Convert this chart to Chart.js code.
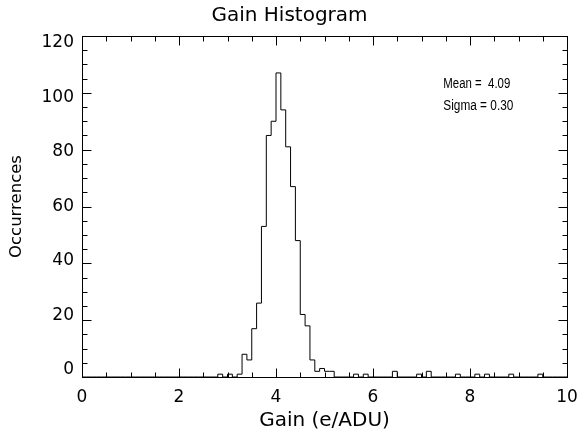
<!DOCTYPE html>
<html>
<head>
<meta charset="utf-8">
<script src="https://cdn.jsdelivr.net/npm/chart.js@4.4.1/dist/chart.umd.min.js"></script>
<style>
  html, body { margin: 0; padding: 0; background: #fff; }
</style>
</head>
<body>
<canvas id="myChart" width="579" height="438"></canvas>
<script>
// histogram of gains, bins 0.0 .. 9.9 (width 0.1)
var binWidth = 0.1;
var counts = [
  0, 0, 0, 0, 0, 0, 0, 0, 0, 0,        // 0.x
  0, 0, 0, 0, 0, 0, 0, 0, 0, 0,        // 1.x
  0, 0, 0, 0, 0, 0, 0, 0, 1, 0,        // 2.x
  1, 0, 1, 8, 6, 17, 26, 53, 85, 90,   // 3.x
  107, 94, 81, 67, 48, 22, 18, 6, 2, 3, // 4.x
  2, 2, 0, 0, 0, 0, 1, 0, 1, 0,        // 5.x
  0, 0, 0, 0, 2, 0, 0, 0, 0, 1,        // 6.x
  0, 2, 0, 0, 0, 0, 0, 1, 0, 0,        // 7.x
  0, 1, 0, 1, 0, 0, 0, 0, 1, 0,        // 8.x
  0, 0, 0, 0, 1, 0, 0, 0, 0, 0         // 9.x
];
var yTicks = [0, 20, 40, 60, 80, 100, 120];
var statLabels = ["Mean =  4.09", "Sigma = 0.30"];

// step points at the left edge of each bin, plus the closing edge
var points = counts.map(function (c, i) { return { x: i * binWidth, y: c }; });
points.push({ x: counts.length * binWidth, y: 0 });

Chart.defaults.font.family = "'DejaVu Sans', sans-serif";
Chart.defaults.color = "#000";

// IDL style box with inward ticks on all four sides + stats text
var idlFrame = {
  id: "idlFrame",
  afterDraw: function (chart) {
    var ctx = chart.ctx, a = chart.chartArea;
    var xs = chart.scales.x, ys = chart.scales.y;
    var L = Math.round(a.left) + 0.5, R = Math.round(a.right) + 0.5;
    var T = Math.round(a.top) + 0.5, B = Math.round(a.bottom) + 0.5;
    ctx.save();
    ctx.strokeStyle = "#000";
    ctx.lineWidth = 1;
    ctx.strokeRect(L, T, R - L, B - T);
    ctx.beginPath();
    for (var k = 0; k <= 20; k++) {
      var px = Math.round(xs.getPixelForValue(k * 0.5)) + 0.5;
      var len = (k % 4 === 0) ? 9 : 5;
      ctx.moveTo(px, B); ctx.lineTo(px, B - len);
      ctx.moveTo(px, T); ctx.lineTo(px, T + len);
    }
    for (var j = 0; j <= 24; j++) {
      var py = Math.round(ys.getPixelForValue(j * 5)) + 0.5;
      var ylen = (j % 4 === 0) ? 9 : 5;
      ctx.moveTo(L, py); ctx.lineTo(L + ylen, py);
      ctx.moveTo(R, py); ctx.lineTo(R - ylen, py);
    }
    ctx.stroke();

    // stats text, squeezed a bit like the IDL vector font
    ctx.fillStyle = "#000";
    ctx.font = "14px 'Liberation Sans', sans-serif";
    ctx.textBaseline = "middle";
    ctx.textAlign = "left";
    ctx.fillText(statLabels[0], xs.getPixelForValue(7.45), ys.getPixelForValue(103), 67);
    ctx.fillText(statLabels[1], xs.getPixelForValue(7.45), ys.getPixelForValue(95.3), 70);
    ctx.restore();
  }
};

var ctx = document.getElementById("myChart").getContext("2d");

var myChart = new Chart(ctx, {
  type: "line",
  data: {
    datasets: [{
      label: "Occurrences",
      data: points,
      stepped: "before",   // count of bin i runs from x_i to x_i+1
      borderColor: "#000",
      borderWidth: 1,
      pointRadius: 0,
      fill: false,
      yAxisID: "y"
    }]
  },
  options: {
    responsive: false,
    animation: false,
    devicePixelRatio: 1,
    layout: { padding: 0 },
    plugins: {
      legend: { display: false },
      tooltip: { enabled: false },
      title: {
        display: true,
        text: "Gain Histogram",
        color: "#000",
        font: { size: 20, weight: "normal" },
        padding: { top: 4, bottom: 8 }
      }
    },
    scales: {
      x: {
        type: "linear",
        min: 0,
        max: 10,
        grid: { display: false, drawTicks: false },
        border: { display: false },
        ticks: { stepSize: 2, padding: 10, maxRotation: 0, autoSkip: false, font: { size: 17 } },
        title: { display: true, text: "Gain (e/ADU)", font: { size: 20 }, padding: { top: 0, bottom: 5 } },
        afterFit: function (s) { s.height = 61; s.paddingLeft = 0; s.paddingRight = 12; }
      },
      // data scale (drawn only through the frame plugin)
      y: {
        display: false,
        min: 0,
        max: 120
      },
      // label axis: IDL packs its y labels slightly tighter than the ticks
      yl: {
        position: "left",
        min: -2.6,
        max: 122.4,
        grid: { display: false, drawTicks: false },
        border: { display: false },
        afterBuildTicks: function (s) { s.ticks = yTicks.map(function (v) { return { value: v }; }); },
        ticks: { padding: 8, font: { size: 17 } },
        title: { display: true, text: "Occurrences", font: { size: 16.5 }, padding: { top: 7, bottom: 0 } },
        afterFit: function (s) { s.width = 82; }
      }
    }
  },
  plugins: [idlFrame]
});
</script>
</body>
</html>
